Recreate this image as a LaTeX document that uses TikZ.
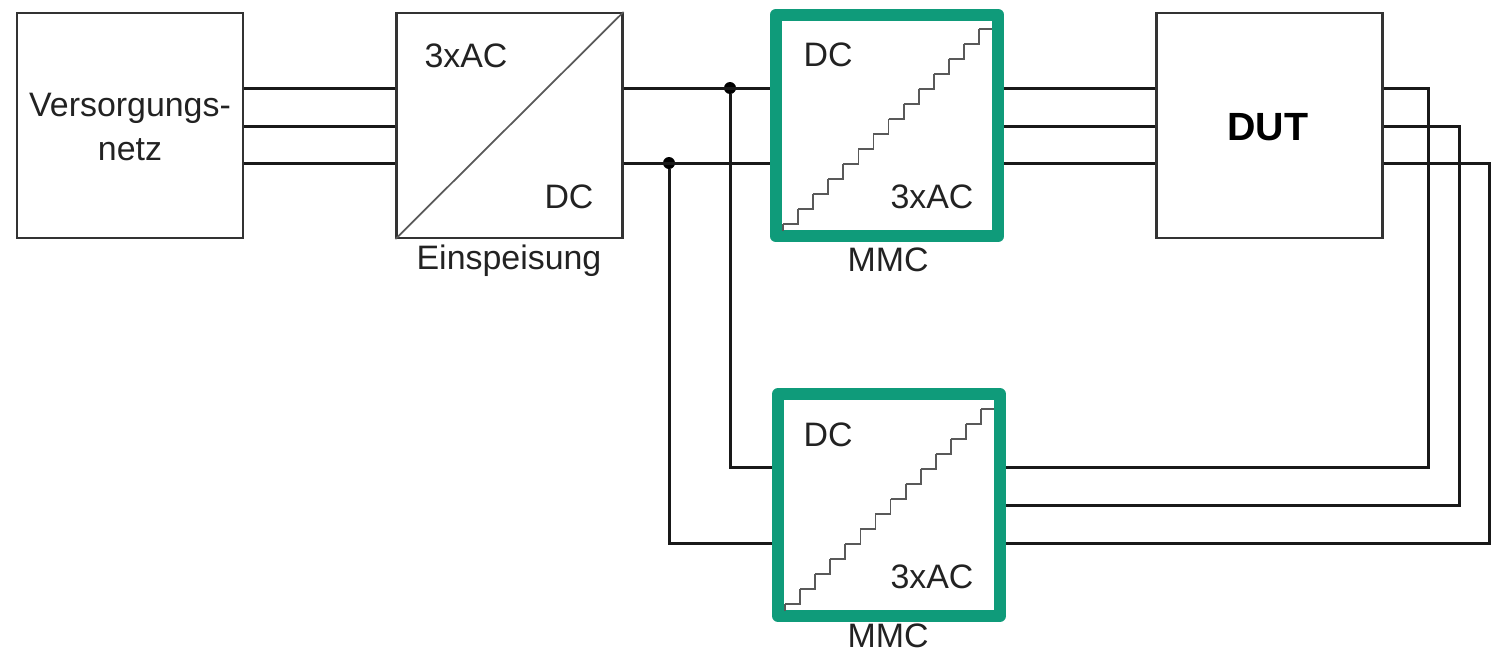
\documentclass[tikz,border=0pt]{standalone}
\usepackage{fontspec}
\setmainfont{Liberation Sans}
\usepackage{tikz}
\definecolor{mmcgreen}{HTML}{0F9B7A}
\definecolor{labelgray}{HTML}{222222}
\begin{document}
\begin{tikzpicture}[x=0.02cm,y=-0.02cm,
    block/.style={draw=black!80,line width=0.045cm,minimum width=4.52cm,minimum height=4.5cm,inner sep=0pt},
    mmc/.style={draw=mmcgreen,line width=0.24cm,line join=round,minimum width=4.44cm,minimum height=4.44cm,inner sep=0pt},
    bus/.style={draw=black!90,line width=0.06cm},
    junction/.style={circle,fill=black,inner sep=0pt,minimum size=0.24cm},
    txt/.style={inner sep=0pt,text=labelgray,align=center,font=\fontsize{19.3}{25}\selectfont},
    thin line/.style={draw=black!65,line width=0.035cm}]
      \useasboundingbox (0,0) rectangle (1499,653);
      \node[block] (netz) at (130,125.5) {}; \node[block] (einsp) at (509.5,125.5) {};
      \node[mmc] (mmca) at (887,125.5) {}; \node[block] (dut) at (1269.5,125.5) {};
      \node[mmc] (mmcb) at (889,505) {};
      \coordinate (l1) at (0,88); \coordinate (l2) at (0,126); \coordinate (l3) at (0,163);
      \coordinate (m1) at (0,467); \coordinate (m2) at (0,505); \coordinate (m3) at (0,543);
      \coordinate (r1) at (1428,0); \coordinate (r2) at (1459,0); \coordinate (r3) at (1489,0);
      \node[junction] (ja) at (730,88) {}; \node[junction] (jb) at (669,163) {};
      % three phases
      \foreach \l in {l1,l2,l3} {
        \draw[bus] (netz.east |- \l) -- (einsp.west |- \l);
        \draw[bus] (mmca.east |- \l) -- (dut.west |- \l);
      }
      \draw[bus] (einsp.east |- l1) -- (mmca.west |- l1);
      \draw[bus] (einsp.east |- l3) -- (mmca.west |- l3);
      \draw[bus] (ja) |- (mmcb.west |- m1);
      \draw[bus] (jb) |- (mmcb.west |- m3);
      \draw[bus] (dut.east |- l1) -| (r1 |- m1) -- (mmcb.east |- m1);
      \draw[bus] (dut.east |- l2) -| (r2 |- m2) -- (mmcb.east |- m2);
      \draw[bus] (dut.east |- l3) -| (r3 |- m3) -- (mmcb.east |- m3);
      \draw[thin line] (einsp.south west) -- (einsp.north east);
      % staircases
      \foreach \dx/\dy in {0/0,2/380} {
        \begin{scope}[shift={(\dx,\dy)}]
          \draw[thin line] (783,231) -- (783,224);
          \foreach \i in {1,...,13}
            \draw[thin line] ({783+15.08*(\i-1)},{224-15*(\i-1)}) -| ({783+15.08*\i},{224-15*\i});
          \draw[thin line] (979,29) -- (992,29);
        \end{scope}
      }
      \node[txt] (tnetz) at (130,127) {Versorgungs-\\netz};
      \node[txt] (tac) at (466,56) {3xAC}; \node[txt] (tdc) at (569,197) {DC};
      \node[txt] (teinsp) at (509,261) {Einspeisung};
      \node[txt] (tdca) at (828,55) {DC}; \node[txt] (taca) at (932,197) {3xAC};
      \node[txt] (tmmca) at (888,260) {MMC};
      \node[txt] (tdcb) at (828,435) {DC}; \node[txt] (tacb) at (932,577) {3xAC};
      \node[txt] (tmmcb) at (888,636) {MMC};
      \node[txt,font=\fontsize{22.4}{26}\selectfont\bfseries,text=black] (tdut) at (1268,127) {DUT};
\end{tikzpicture}
\end{document}
